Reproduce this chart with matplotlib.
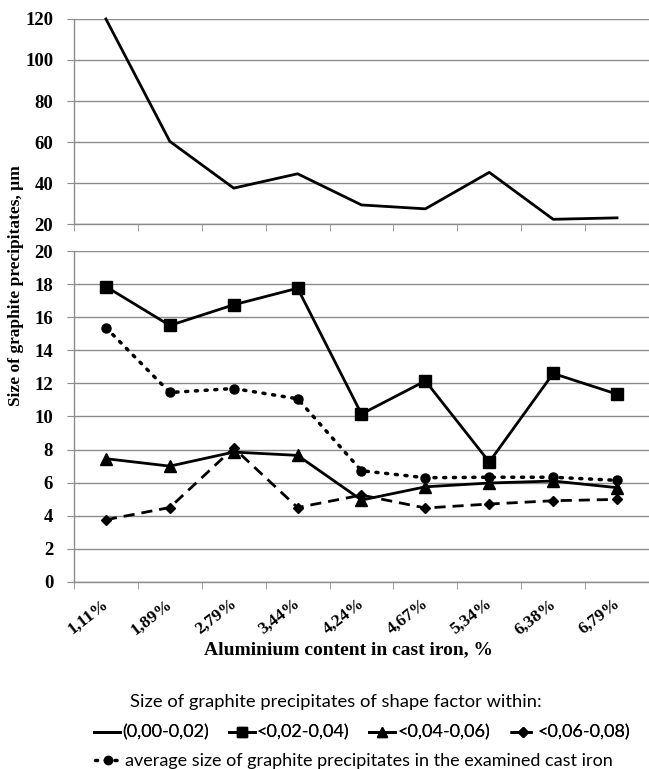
import numpy as np
import matplotlib
matplotlib.use("Agg")
import matplotlib.pyplot as plt
import matplotlib.transforms as mtransforms
from matplotlib.lines import Line2D

# aluminium content categories
categories = ["1,11%", "1,89%", "2,79%", "3,44%", "4,24%", "4,67%", "5,34%", "6,38%", "6,79%"]

# size of graphite precipitates (um) by shape factor range
sf_000_002 = [120, 60.3, 37.5, 44.5, 29.3, 27.4, 45.2, 22.3, 23.0]
sf_002_004 = [17.85, 15.5, 16.75, 17.75, 10.15, 12.15, 7.25, 12.6, 11.35]
sf_004_006 = [7.45, 7.0, 7.85, 7.65, 4.95, 5.75, 5.98, 6.1, 5.7]
sf_006_008 = [3.76, 4.5, 8.1, 4.5, 5.25, 4.47, 4.71, 4.91, 4.99]
average = [15.37, 11.45, 11.69, 11.07, 6.72, 6.3, 6.33, 6.33, 6.14]

serif = "Liberation Serif"
sans = "Lato"
grid_c = "#8c8c8c"

fig = plt.figure(figsize=(6.49, 7.69), dpi=100)
ax_top = fig.add_axes([0.114, 0.7087, 0.886, 0.2666])
ax_bot = fig.add_axes([0.114, 0.2432, 0.886, 0.4304])

x = np.arange(len(categories))
xlim = (-0.5, 8.38)

for ax in (ax_top, ax_bot):
    ax.set_xlim(*xlim)
    for s in ("top", "right"):
        ax.spines[s].set_visible(False)
    for s in ("left", "bottom"):
        ax.spines[s].set_color(grid_c)
        ax.spines[s].set_linewidth(1)
    ax.yaxis.grid(True, color=grid_c, lw=1)
    ax.set_axisbelow(True)
    ax.set_xticks(x)
    ax.set_xticks(np.arange(len(categories) + 1) - 0.5, minor=True)
    ax.tick_params(axis="x", which="major", length=0)
    ax.tick_params(axis="x", which="minor", length=5, color=grid_c, direction="out")
    ax.tick_params(axis="y", length=5, color=grid_c, pad=10)

# top panel
ax_top.plot(x, sf_000_002, color="black", lw=2, clip_on=False)
ax_top.set_ylim(20, 120)
ax_top.set_yticks(np.arange(20, 121, 20))
ax_top.set_xticklabels([])

# bottom panel
ax_bot.plot(x, sf_002_004, color="black", lw=2, marker="s", ms=8, clip_on=False)
ax_bot.plot(x, sf_004_006, color="black", lw=2, marker="^", ms=8, clip_on=False)
ax_bot.plot(x, sf_006_008, color="black", lw=2, ls=(0, (4, 2.5)), marker="D", ms=5.5, clip_on=False)
ax_bot.plot(x, average, color="black", lw=2.5, ls=(0, (0.6, 2.2)), dash_capstyle="round",
            marker="o", ms=6.5, clip_on=False)
ax_bot.set_ylim(0, 20)
ax_bot.set_yticks(np.arange(0, 21, 2))
ax_bot.set_xticklabels(categories, rotation=38, ha="right", va="top",
                       rotation_mode="anchor", fontfamily=serif, fontweight="bold", fontsize=12.5)
ax_bot.tick_params(axis="x", which="major", pad=10)
shift = mtransforms.ScaledTranslation(-4 / 100, 0, fig.dpi_scale_trans)
for lab in ax_bot.get_xticklabels():
    lab.set_transform(lab.get_transform() + shift)

for ax in (ax_top, ax_bot):
    for lab in ax.get_yticklabels():
        lab.set_fontfamily(serif)
        lab.set_fontweight("bold")
        lab.set_fontsize(13.5)

fig.text(0.537, 0.155, "Aluminium content in cast iron, %", ha="center", va="center",
         fontfamily=serif, fontweight="bold", fontsize=14)
fig.text(0.025, 0.629, "Size of graphite precipitates, µm", rotation=90, ha="center", va="center",
         fontfamily=serif, fontweight="bold", fontsize=12.5)

# legend
fig.text(0.518, 0.087, "Size of graphite precipitates of shape factor within:", ha="center",
         va="center", fontfamily=sans, fontsize=13.2)
h1 = [
    Line2D([], [], color="black", lw=2),
    Line2D([], [], color="black", lw=2, marker="s", ms=7),
    Line2D([], [], color="black", lw=2, marker="^", ms=7),
    Line2D([], [], color="black", lw=2, ls=(0, (3, 2)), marker="D", ms=5),
]
l1 = ["(0,00-0,02)", "<0,02-0,04)", "<0,04-0,06)", "<0,06-0,08)"]
leg1 = fig.legend(h1, l1, loc="center", bbox_to_anchor=(0.558, 0.047), ncol=4, frameon=False,
                  prop={"family": sans, "size": 13}, handlelength=1.45, handletextpad=0.1,
                  columnspacing=1.1, borderpad=0)
fig.add_artist(leg1)
h2 = [Line2D([], [], color="black", lw=2.5, ls=(0, (0.6, 2.2)), dash_capstyle="round",
             marker="o", ms=6)]
fig.legend(h2, ["average size of graphite precipitates in the examined cast iron"], loc="center",
           bbox_to_anchor=(0.545, 0.010), frameon=False, prop={"family": sans, "size": 13},
           handlelength=1.45, handletextpad=0.2, borderpad=0)

fig.savefig("out.png", dpi=100)
